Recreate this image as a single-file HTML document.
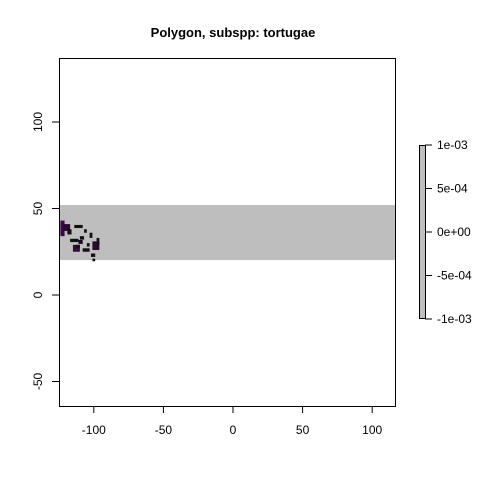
<!DOCTYPE html>
<html><head><meta charset="utf-8"><style>body{margin:0;background:#fff}svg{font-family:"Liberation Sans",Arial,sans-serif}</style></head>
<body>
<svg id="c" width="480" height="480"></svg>
<script>
const xTicks=[-100,-50,0,50,100];
const yTicks=[-50,0,50,100];
const legendTicks=["-1e-03","-5e-04","0e+00","5e-04","1e-03"];
const legendVals=[-0.001,-0.0005,0,0.0005,0.001];
const bandLat=[20.2,52];
// cells: lon0, lon1, lat0, lat1, shade
const cellLon0=[-124,-122,-114,-107,-103,-117,-111,-101,-115,-108,-102,-101,-119,-113,-98,-110,-105];
const cellLon1=[-121,-117,-108,-105,-101,-111,-108,-96,-110,-103,-99,-99,-116,-110,-96,-107,-103];
const cellLat0=[34,37,38.7,36,33,30.6,29.5,26,25,25,22,19.5,35,27,29,32,28];
const cellLat1=[43,41,40.5,38,36,32.5,31.8,31,29,27,24,21,38,29,33,34,30];
const cellShade=["#3b0a45","#2a0a30","#111","#111","#111","#111","#1a0a1f","#2a0a30","#3b0a45","#111","#111","#111","#111","#111","#111","#111","#111"];
const NS="http://www.w3.org/2000/svg";
const svg=document.getElementById('c');
const X=v=>233+v*1.392, Y=v=>295-v*1.73;
function el(t,a,p){const e=document.createElementNS(NS,t);for(const k in a)e.setAttribute(k,a[k]);(p||svg).appendChild(e);return e;}
const t=el('text',{x:233,y:37,'text-anchor':'middle','font-size':13,'font-weight':'bold'});t.textContent='Polygon, subspp: tortugae';

const band=el('rect',{x:59,y:Y(bandLat[1]),width:336,height:Y(bandLat[0])-Y(bandLat[1]),fill:'#bebebe'});

for(let i=0;i<cellLon0.length;i++){const r=el('rect',{x:X(cellLon0[i]),y:Y(cellLat1[i]),width:X(cellLon1[i])-X(cellLon0[i]),height:Y(cellLat0[i])-Y(cellLat1[i]),fill:cellShade[i]});
}
const box=el('rect',{x:59.5,y:58.5,width:336,height:348,fill:'none',stroke:'#000'});

xTicks.forEach(v=>{el('line',{x1:X(v),x2:X(v),y1:406,y2:413,stroke:'#000'});const l=el('text',{x:X(v),y:434,'text-anchor':'middle','font-size':12});l.textContent=v;
});
yTicks.forEach(v=>{el('line',{x1:52,x2:59,y1:Y(v),y2:Y(v),stroke:'#000'});const l=el('text',{x:42,y:Y(v),'text-anchor':'middle','font-size':12,transform:`rotate(-90 42 ${Y(v)})`});l.textContent=v;
});
const LY=v=>232-v*87000;
const lb=el('rect',{x:419.5,y:145.5,width:6,height:173,fill:'#bebebe',stroke:'#000'});

legendVals.forEach((v,i)=>{el('line',{x1:425,x2:432,y1:LY(v),y2:LY(v),stroke:'#000'});const l=el('text',{x:437,y:LY(v)+4,'font-size':12});l.textContent=legendTicks[i];
});
</script>
</body></html>
